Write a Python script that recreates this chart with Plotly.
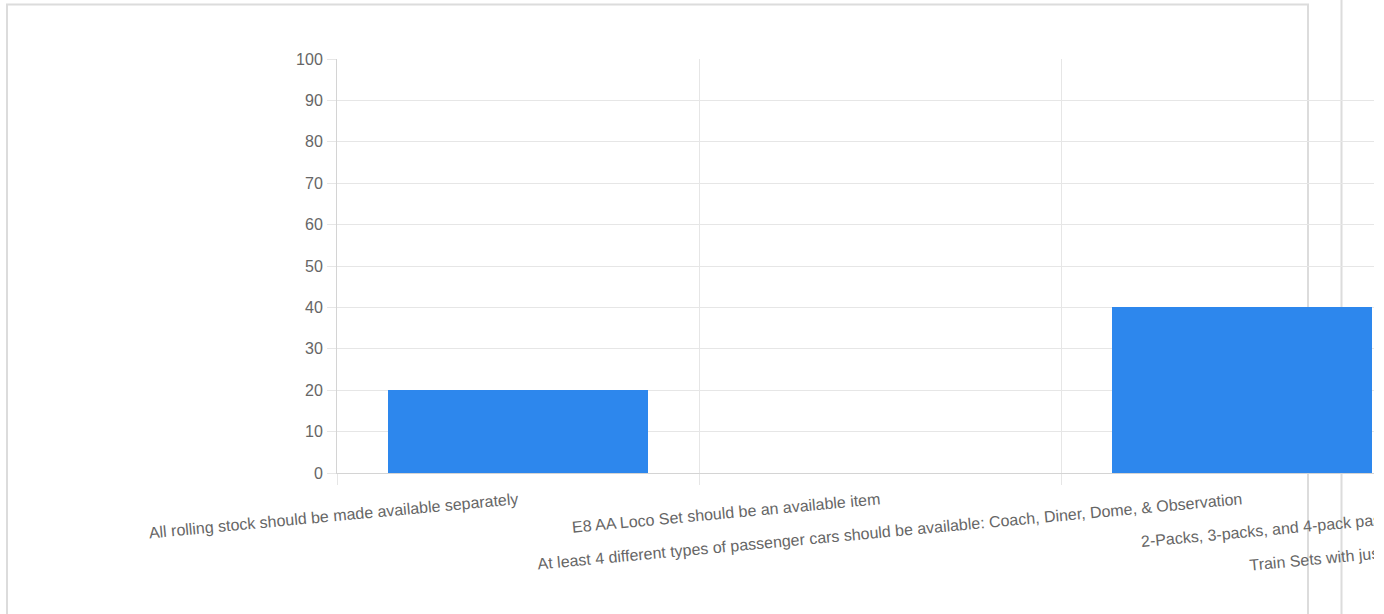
import plotly.graph_objects as go

categories = [
    "All rolling stock should be made available separately",
    "E8 AA Loco Set should be an available item",
    "At least 4 different types of passenger cars should be available: Coach, Diner, Dome, & Observation",
    "2-Packs, 3-packs, and 4-pack passenger sets should be available",
    "Train Sets with just a locomotive and few cars should be available for modelers who want a starter set",
]
values = [20, 0, 40, 20, 20]
y_ticks = list(range(0, 101, 10))

BAR_COLOR = "#2d87ed"
GRID = "#e6e6e6"
AXIS = "#d4d4d4"
FONT = "Liberation Sans, Arial, sans-serif"

L, T, B, R = 337, 59, 141, 30
CAT_W = 362
H = 614
W = L + CAT_W * len(categories) + R
PW = CAT_W * len(categories)
PH = H - T - B

fig = go.Figure(
    go.Bar(
        x=categories,
        y=values,
        width=0.72,
        marker=dict(color=BAR_COLOR, line=dict(width=0)),
    )
)


def px_x(p):
    return (p - L) / PW


def px_y(p):
    return (H - B - p) / PH


frame = dict(type="line", xref="paper", yref="paper", layer="below",
             line=dict(color="#dcdcdc", width=2))
shapes = [
    dict(frame, x0=px_x(7), x1=px_x(7), y0=px_y(4), y1=px_y(620)),
    dict(frame, x0=px_x(6), x1=px_x(1309), y0=px_y(4.5), y1=px_y(4.5)),
    dict(frame, x0=px_x(1308), x1=px_x(1308), y0=px_y(4), y1=px_y(620)),
    dict(frame, x0=px_x(1341.5), x1=px_x(1341.5), y0=px_y(-5), y1=px_y(620)),
]

fig.update_layout(
    width=W,
    height=H,
    margin=dict(l=L, r=R, t=T, b=B, pad=0),
    paper_bgcolor="white",
    plot_bgcolor="rgba(0,0,0,0)",
    showlegend=False,
    bargap=0,
    font=dict(family=FONT, size=16, color="#666666"),
    shapes=shapes,
    xaxis=dict(
        type="category",
        range=[-0.5, len(categories) - 0.5],
        tickson="boundaries",
        ticks="outside",
        ticklen=11,
        tickcolor=GRID,
        showgrid=True,
        gridcolor=GRID,
        gridwidth=1,
        showline=True,
        linecolor=AXIS,
        linewidth=1,
        tickangle=-5.3,
        ticklabelstandoff=11,
        tickfont=dict(family=FONT, size=16, color="#666666"),
        automargin=False,
        fixedrange=True,
    ),
    yaxis=dict(
        range=[0, 100],
        tickvals=y_ticks,
        ticks="outside",
        ticklen=9,
        tickcolor=GRID,
        showgrid=True,
        gridcolor=GRID,
        gridwidth=1,
        zeroline=False,
        showline=True,
        linecolor=AXIS,
        linewidth=1,
        ticklabelstandoff=1,
        tickfont=dict(family=FONT, size=16, color="#666666"),
        automargin=False,
        fixedrange=True,
    ),
)

post = (
    "document.body.style.margin='0';"
    "document.body.style.overflow='hidden';"
    "var gd=document.getElementById('{plot_id}');"
    "gd.parentElement.style.width='1374px';"
    "gd.parentElement.style.overflow='hidden';"
)

fig.write_html("out.html", post_script=post, config=dict(displayModeBar=False))
